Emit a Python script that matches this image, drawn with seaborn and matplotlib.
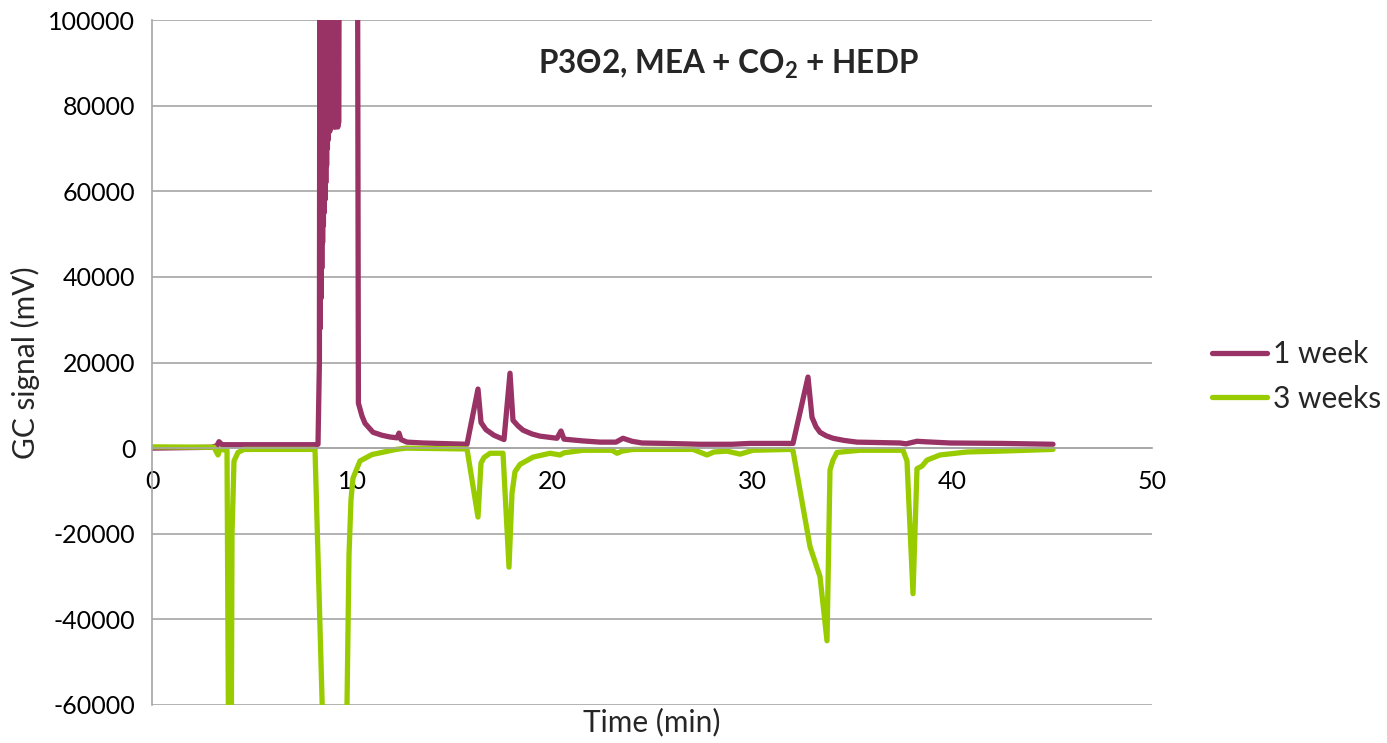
import numpy as np
import pandas as pd
import matplotlib
matplotlib.use("Agg")
import matplotlib.pyplot as plt
import seaborn as sns

# GC signal traces (time in min, signal in mV)
week1_time = [0.0, 3.0, 3.25, 3.35, 3.5, 8.2, 8.3,
              # detector overload burst
              8.37, 8.39, 8.41, 8.43, 8.45, 8.47, 8.49, 8.51, 8.53, 8.55, 8.57, 8.59,
              8.61, 8.63, 8.65, 8.67, 8.69, 8.71, 8.73, 8.75, 8.77, 8.79, 8.81, 8.83,
              8.85, 8.87, 8.89, 8.91, 8.93, 8.95, 8.97, 8.99, 9.01, 9.03, 9.05, 9.07,
              9.09, 9.11, 9.13, 9.15, 9.17, 9.19, 9.21, 9.23, 9.25, 9.27, 9.29, 9.31,
              9.33, 9.36, 9.40,
              10.28, 10.32, 10.5, 10.65, 11.05, 11.5, 11.9, 12.25, 12.35, 12.45, 12.75,
              13.55, 15.75, 16.3, 16.45, 16.7, 17.1, 17.6, 17.9, 18.05, 18.3, 18.55, 19.0,
              19.4, 20.25, 20.45, 20.6, 21.5, 22.4, 23.2, 23.55, 24.0, 24.5, 25.7, 27.4,
              29.0, 29.9, 32.05, 32.8, 33.0, 33.2, 33.4, 33.7, 34.05, 34.6, 35.25, 37.4,
              37.7, 38.25, 38.6, 39.9, 42.5, 45.05]
week1_signal = [0, 200, 600, 1500, 800, 800, 900,
                20000, 110000, 28000, 110000, 35000, 110000, 42000, 110000, 48000, 110000,
                52000, 110000, 55000, 110000, 58000, 110000, 62000, 110000, 66000, 110000,
                70000, 110000, 72000, 110000, 74000, 110000, 74000, 110000, 75000, 110000,
                75000, 110000, 76000, 110000, 76000, 110000, 75000, 110000, 76000, 110000,
                75000, 110000, 76000, 110000, 76000, 110000, 75000, 110000, 76000, 110000,
                110000,
                110000, 10500, 7500, 5800, 3700, 3000, 2600, 2400, 3500, 2000, 1400,
                1200, 900, 13800, 6000, 4300, 3000, 2000, 17500, 6500, 5200, 4200, 3300,
                2800, 2300, 4000, 2100, 1700, 1400, 1400, 2300, 1600, 1200, 1100, 900,
                900, 1100, 1100, 16600, 7200, 5000, 3700, 2900, 2300, 1800, 1400, 1200,
                1000, 1600, 1500, 1200, 1100, 900]

week3_time = [0.0, 3.1, 3.3, 3.4, 3.75, 3.85, 3.95, 4.0, 4.1, 4.3, 4.6, 8.15, 8.6, 9.6,
              9.75, 9.85, 9.95, 10.05, 10.4, 11.0, 12.2, 12.7, 15.75, 16.3, 16.45, 16.6,
              16.9, 17.55, 17.85, 18.0, 18.15, 18.4, 19.05, 19.9, 20.4, 20.6, 21.55, 23.0,
              23.25, 23.5, 24.05, 27.05, 27.75, 28.1, 28.75, 29.4, 30.05, 31.9, 32.05,
              32.9, 33.4, 33.75, 33.9, 34.05, 34.25, 35.4, 37.55, 37.75, 38.05, 38.25,
              38.5, 38.75, 39.4, 40.75, 42.4, 45.05]
week3_signal = [300, 200, -1600, -300, -500, -90000, -90000, -20000, -3000, -1000, -300,
                -300, -75000, -75000, -60000, -25000, -12000, -7000, -3000, -1500, -300,
                0, -200, -16100, -3500, -2200, -1200, -1200, -27800, -10500, -5500, -3800,
                -2100, -1200, -1600, -1100, -500, -500, -1200, -700, -300, -300, -1600,
                -900, -700, -1400, -500, -300, -600, -23000, -30000, -45000, -5100, -2800,
                -1000, -500, -500, -3000, -34000, -4800, -4200, -2800, -1600, -900, -700,
                -300]

series_names = ["1 week", "3 weeks"]
series_colors = ["#993366", "#99CC00"]

x_ticks = [0, 10, 20, 30, 40, 50]
y_ticks = [-60000, -40000, -20000, 0, 20000, 40000, 60000, 80000, 100000]

df = pd.concat([
    pd.DataFrame({"time": week1_time, "signal": week1_signal, "series": series_names[0]}),
    pd.DataFrame({"time": week3_time, "signal": week3_signal, "series": series_names[1]}),
], ignore_index=True)

sns.set_theme(style="white")
plt.rcParams["font.family"] = ["Lato", "DejaVu Sans"]
plt.rcParams["mathtext.fontset"] = "custom"
plt.rcParams["mathtext.rm"] = "Lato"
plt.rcParams["mathtext.bf"] = "Lato:bold"

fig = plt.figure(figsize=(13.87, 7.43), dpi=100)
ax = fig.add_axes([152 / 1387, 1 - 705 / 743, 1000 / 1387, 685 / 743])

sns.lineplot(data=df, x="time", y="signal", hue="series", palette=series_colors,
             estimator=None, sort=False, linewidth=3.8, ax=ax, legend=True)
for line in ax.get_lines():
    line.set_solid_joinstyle("round")
    line.set_solid_capstyle("round")

ax.set_xlim(0, 50)
ax.set_ylim(-60000, 100000)
ax.set_xticks(x_ticks)
ax.set_yticks(y_ticks)
ax.set_xticklabels([str(v) for v in x_ticks])
ax.set_yticklabels([str(v) for v in y_ticks])

grid_color = "#a6a6a6"
ax.yaxis.grid(True, color=grid_color, linewidth=1.2)
ax.xaxis.grid(False)
ax.set_axisbelow(True)
for side in ["top", "right"]:
    ax.spines[side].set_visible(False)
ax.spines["left"].set_color(grid_color)
ax.spines["bottom"].set_color(grid_color)
ax.spines["left"].set_linewidth(1.2)
ax.spines["bottom"].set_linewidth(1.2)
ax.spines["bottom"].set_position(("data", 0))

ax.tick_params(axis="both", which="major", labelsize=18, colors="black",
               direction="out", length=6, width=1.2)
ax.tick_params(axis="x", color=grid_color, pad=10)
ax.tick_params(axis="y", color=grid_color, pad=6)

ax.set_xlabel("Time (min)", fontsize=21.5, labelpad=0)
ax.xaxis.set_label_coords(0.5, -0.004, transform=ax.transAxes)
ax.xaxis.label.set_verticalalignment("top")
ax.set_ylabel("GC signal (mV)", fontsize=21.5, labelpad=6)

ax.text(0.576, 0.935, r"P3Θ2, MEA + CO$_\mathbf{2}$ + HEDP", transform=ax.transAxes,
        ha="center", va="center", fontsize=22.7, fontweight="bold")

handles, labels = ax.get_legend_handles_labels()
ax.legend(handles, labels, loc="center left", bbox_to_anchor=(1212 / 1387, 1 - 376.5 / 743),
          bbox_transform=fig.transFigure, frameon=False, fontsize=21.5,
          handlelength=1.85, handletextpad=0.2, labelspacing=0.55,
          borderpad=0, borderaxespad=0)
for h in ax.get_legend().get_lines():
    h.set_linewidth(3.8)
    h.set_solid_capstyle("round")

fig.savefig("out.png", dpi=100)
